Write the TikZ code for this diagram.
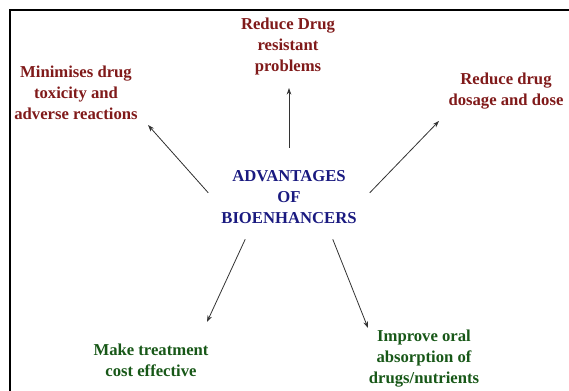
\documentclass[tikz,border=0pt]{standalone}
\usepackage{fontspec}
\setmainfont{Liberation Serif}
\usetikzlibrary{arrows.meta}
\definecolor{benefitred}{RGB}{128,26,26}
\definecolor{titleblue}{RGB}{26,26,128}
\definecolor{benefitgreen}{RGB}{24,88,24}
\tikzset{
  benefit/.style={align=center,inner sep=0.75pt,font=\bfseries\fontsize{12.5}{15.75}\selectfont},
  spoke/.style={draw=black!80,line width=0.6pt,-{Stealth[length=5pt,width=3.5pt]}}
}
\begin{document}
\begin{tikzpicture}[x=0.75pt,y=0.75pt,yscale=-1,xscale=1]
                \useasboundingbox (0,0) rectangle (569,391);
                \draw  [line width=1.5pt]  (10,391) -- (10,10) -- (569,10) ;
                % centre and the five advantages
                \node (adv) at (289,197) [benefit,text=titleblue,minimum width=120.75pt,minimum height=63pt] {ADVANTAGES\\OF\\BIOENHANCERS};
                \node (resist) at (288,46) [benefit,text=benefitred] {Reduce Drug\\resistant\\problems};
                \node (toxic) at (76,93) [benefit,text=benefitred] {Minimises drug\\toxicity and\\adverse reactions};
                \node (dose) at (506,91) [benefit,text=benefitred] {Reduce drug\\dosage and dose};
                \node (cost) at (151,360) [benefit,text=benefitgreen] {Make treatment\\cost effective};
                \node (absorb) at (424,359) [benefit,text=benefitgreen] {Improve oral\\absorption of\\drugs/nutrients};
                % arrow tips
                \coordinate (resist-tip) at (289,88);
                \coordinate (toxic-tip) at (148,125);
                \coordinate (dose-tip) at (439,121);
                \coordinate (cost-tip) at (207,322);
                \coordinate (absorb-tip) at (368,328);
                \draw [spoke,shorten <=5.25pt] (adv.north) -- (resist-tip);
                \draw [spoke] (adv.177) -- (toxic-tip);
                \draw [spoke] (adv.3) -- (dose-tip);
                \draw [spoke] (adv.224) -- (cost-tip);
                \draw [spoke] (adv.316) -- (absorb-tip);
\end{tikzpicture}
\end{document}
